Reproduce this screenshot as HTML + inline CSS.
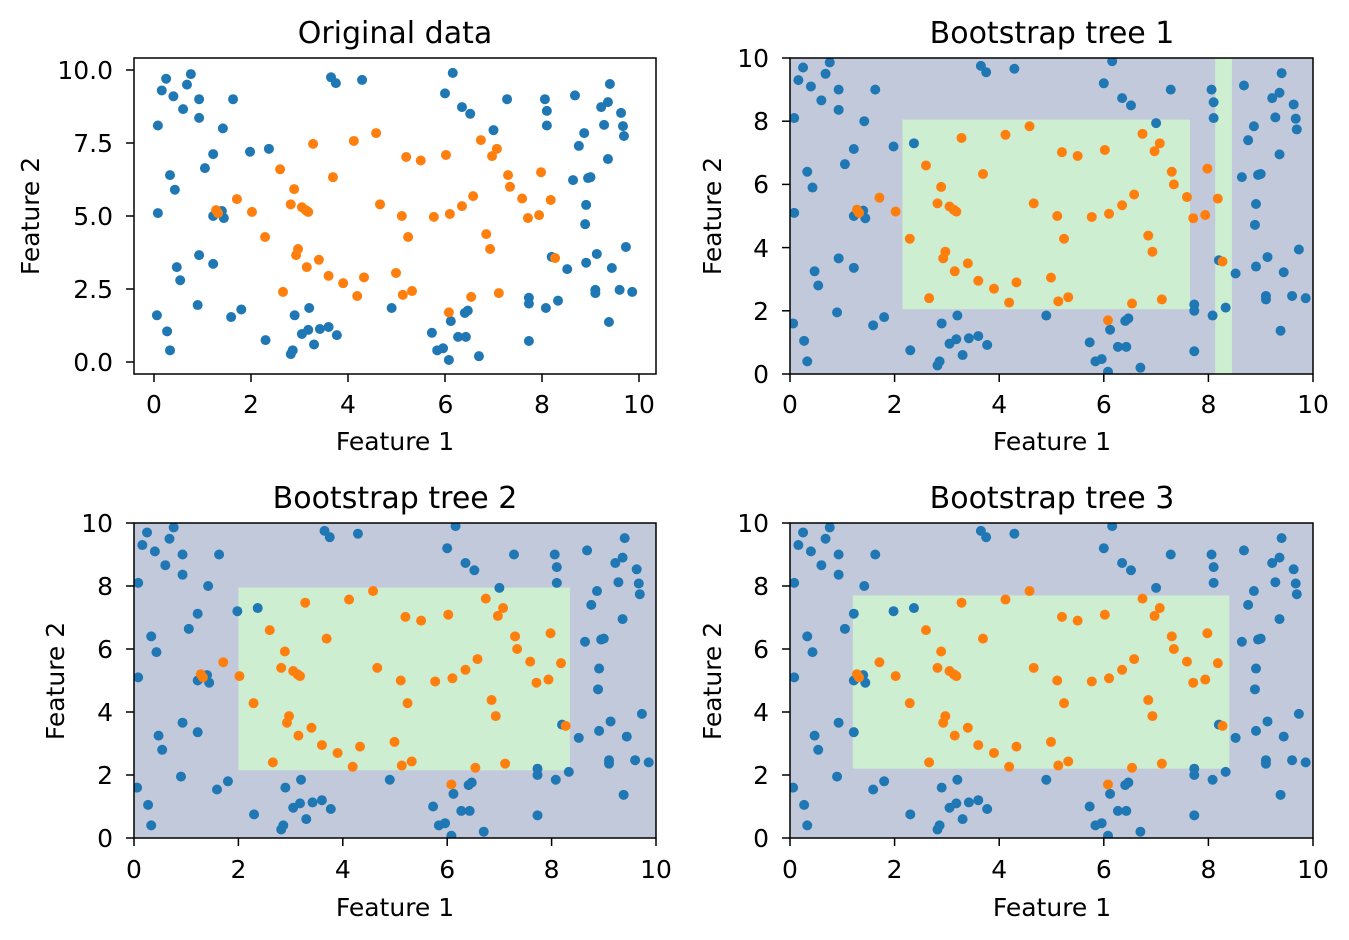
<!DOCTYPE html>
<html><head><meta charset="utf-8"><style>
body{margin:0;background:#fff}
svg{display:block;font-family:"DejaVu Sans","Liberation Sans",sans-serif}
.t{font-size:30px;text-anchor:middle}
.l{font-size:25px;text-anchor:middle}
.k{font-size:25px}
.kx{text-anchor:middle}
.ky{text-anchor:end}
</style></head><body>
<svg id="s" width="1349" height="940" viewBox="0 0 1349 940">
<g id="bg"></g>
<g id="pts"></g>
<g id="ax" fill="none" stroke="#000" stroke-width="1.5"></g>
<g class="t">
<text x="395" y="43">Original data</text>
<text x="1052" y="43">Bootstrap tree 1</text>
<text x="395" y="508">Bootstrap tree 2</text>
<text x="1052" y="508">Bootstrap tree 3</text>
</g>
<g class="l">
<text x="395" y="450">Feature 1</text>
<text x="1052" y="450">Feature 1</text>
<text x="395" y="916">Feature 1</text>
<text x="1052" y="916">Feature 1</text>
<text transform="translate(39,216) rotate(-90)">Feature 2</text>
<text transform="translate(721,216) rotate(-90)">Feature 2</text>
<text transform="translate(64,681) rotate(-90)">Feature 2</text>
<text transform="translate(721,681) rotate(-90)">Feature 2</text>
</g>
<g class="k kx">
<text x="154" y="413">0</text><text x="251" y="413">2</text><text x="348" y="413">4</text><text x="445.5" y="413">6</text><text x="542" y="413">8</text><text x="639" y="413">10</text>
<text x="790" y="413">0</text><text x="894.6" y="413">2</text><text x="999.2" y="413">4</text><text x="1103.8" y="413">6</text><text x="1208.4" y="413">8</text><text x="1313" y="413">10</text>
<text x="134" y="878">0</text><text x="238.4" y="878">2</text><text x="342.8" y="878">4</text><text x="447.2" y="878">6</text><text x="551.6" y="878">8</text><text x="656" y="878">10</text>
<text x="790" y="878">0</text><text x="894.6" y="878">2</text><text x="999.2" y="878">4</text><text x="1103.8" y="878">6</text><text x="1208.4" y="878">8</text><text x="1313" y="878">10</text>
</g>
<g class="k ky">
<text x="113" y="371">0.0</text><text x="113" y="298">2.5</text><text x="113" y="225">5.0</text><text x="113" y="152">7.5</text><text x="113" y="79">10.0</text>
<text x="769" y="383">0</text><text x="769" y="320">2</text><text x="769" y="257">4</text><text x="769" y="193">6</text><text x="769" y="130">8</text><text x="769" y="67">10</text>
<text x="113" y="847">0</text><text x="113" y="784">2</text><text x="113" y="721">4</text><text x="113" y="658">6</text><text x="113" y="595">8</text><text x="113" y="532">10</text>
<text x="769" y="847">0</text><text x="769" y="784">2</text><text x="769" y="721">4</text><text x="769" y="658">6</text><text x="769" y="595">8</text><text x="769" y="532">10</text>
</g>
</svg>
<script>
var B=[[.08,8.1],[.08,5.1],[.06,1.6],[.16,9.3],[.25,9.7],[.27,1.05],[.33,.4],[.33,6.4],[.4,9.1],[.43,5.9],[.47,3.25],[.54,2.8],[.6,8.66],[.68,9.5],[.76,9.86],[.93,9],[.93,8.36],[.93,3.66],[.9,1.95],[1.05,6.64],[1.22,7.12],[1.22,5],[1.22,3.36],[1.4,5.17],[1.42,8],[1.44,4.93],[1.59,1.54],[1.63,9],[1.8,1.8],[1.98,7.2],[2.3,.75],[2.37,7.3],[2.82,.27],[2.86,.4],[2.9,1.6],[3.05,.96],[3.18,1.1],[3.2,1.85],[3.3,.6],[3.42,1.13],[3.6,1.2],[3.65,9.75],[3.75,9.55],[3.77,.92],[4.29,9.66],[4.9,1.85],[5.73,1],[5.84,.4],[5.96,.47],[6,9.2],[6.08,.07],[6.12,1.4],[6.16,9.9],[6.27,.86],[6.35,8.73],[6.41,1.68],[6.47,1.76],[6.52,8.5],[6.43,.86],[6.7,.2],[7,7.94],[7.28,9],[7.73,2.2],[7.73,2],[7.73,.72],[8.06,9],[8.08,1.85],[8.1,8.1],[8.1,8.6],[8.2,3.6],[8.33,2.1],[8.52,3.18],[8.64,6.23],[8.68,9.13],[8.76,7.4],[8.87,7.84],[8.89,4.72],[8.91,3.4],[8.91,5.38],[8.95,6.3],[9,6.33],[9.1,2.47],[9.1,2.36],[9.13,3.7],[9.22,8.73],[9.28,8.12],[9.36,8.9],[9.36,6.95],[9.38,1.37],[9.4,9.52],[9.44,3.22],[9.6,2.47],[9.63,8.53],[9.67,8.08],[9.69,7.74],[9.73,3.94],[9.86,2.4]];
var O=[[1.28,5.2],[1.32,5.1],[1.71,5.58],[2.02,5.14],[2.29,4.28],[2.6,6.6],[2.66,2.4],[2.82,5.4],[2.89,5.92],[2.93,3.66],[2.97,3.87],[3.05,5.3],[3.13,5.2],[3.15,3.25],[3.18,5.14],[3.28,7.47],[3.4,3.5],[3.6,2.95],[3.69,6.33],[3.9,2.7],[4.12,7.57],[4.19,2.26],[4.33,2.9],[4.58,7.84],[4.66,5.4],[4.99,3.05],[5.11,5],[5.13,2.3],[5.2,7.02],[5.24,4.28],[5.32,2.43],[5.5,6.9],[5.77,4.97],[6.02,7.09],[6.08,1.7],[6.1,5.07],[6.35,5.34],[6.54,2.23],[6.58,5.68],[6.74,7.6],[6.85,4.38],[6.93,3.87],[6.97,7.05],[7.07,7.3],[7.11,2.36],[7.3,6.4],[7.34,6],[7.59,5.6],[7.71,4.93],[7.94,5.03],[7.98,6.5],[8.18,5.55],[8.27,3.56]];
var P=[
{x0:134,x1:656,y0:58,y1:374,ox:154,sx:48.5,oy:362,sy:29.2,xt:[0,2,4,6,8,10],yt:[0,2.5,5,7.5,10],bg:false},
{x0:790,x1:1313,y0:58,y1:374,ox:790,sx:52.3,oy:374,sy:31.6,xt:[0,2,4,6,8,10],yt:[0,2,4,6,8,10],bg:true,g:[[2.15,7.65,2.05,8.05],[8.13,8.45,0,10]]},
{x0:134,x1:656,y0:523,y1:838,ox:134,sx:52.2,oy:838,sy:31.5,xt:[0,2,4,6,8,10],yt:[0,2,4,6,8,10],bg:true,g:[[2,8.35,2.15,7.95]]},
{x0:790,x1:1313,y0:523,y1:838,ox:790,sx:52.3,oy:838,sy:31.5,xt:[0,2,4,6,8,10],yt:[0,2,4,6,8,10],bg:true,g:[[1.2,8.4,2.2,7.7]]}];
var NS="http://www.w3.org/2000/svg";
function el(p,n,a){var e=document.createElementNS(NS,n);for(var k in a)e.setAttribute(k,a[k]);p.appendChild(e);return e;}
var bg=document.getElementById('bg'),pts=document.getElementById('pts'),ax=document.getElementById('ax');
P.forEach(function(p,i){
 var cp=el(document.getElementById('s'),'clipPath',{id:'c'+i});
 el(cp,'rect',{x:p.x0,y:p.y0,width:p.x1-p.x0,height:p.y1-p.y0});
 if(p.bg){el(bg,'rect',{x:p.x0,y:p.y0,width:p.x1-p.x0,height:p.y1-p.y0,fill:'#c2c9db'});
  p.g.forEach(function(r){var xa=p.ox+r[0]*p.sx,xb=p.ox+r[1]*p.sx,ya=p.oy-r[3]*p.sy,yb=p.oy-r[2]*p.sy;
   el(bg,'rect',{x:xa,y:ya,width:xb-xa,height:yb-ya,fill:'#cdeed0'});});}
 var g=el(pts,'g',{'clip-path':'url(#c'+i+')'});
 B.forEach(function(d){el(g,'circle',{cx:p.ox+d[0]*p.sx,cy:p.oy-d[1]*p.sy,r:5,fill:'#1f77b4'});});
 O.forEach(function(d){el(g,'circle',{cx:p.ox+d[0]*p.sx,cy:p.oy-d[1]*p.sy,r:5,fill:'#ff7f0e'});});
 el(ax,'rect',{x:p.x0,y:p.y0,width:p.x1-p.x0,height:p.y1-p.y0});
 p.xt.forEach(function(t){var x=p.ox+t*p.sx;el(ax,'line',{x1:x,x2:x,y1:p.y1,y2:p.y1+8});});
 p.yt.forEach(function(t){var y=p.oy-t*p.sy;el(ax,'line',{x1:p.x0,x2:p.x0-8,y1:y,y2:y});});
});
</script>
</body></html>
